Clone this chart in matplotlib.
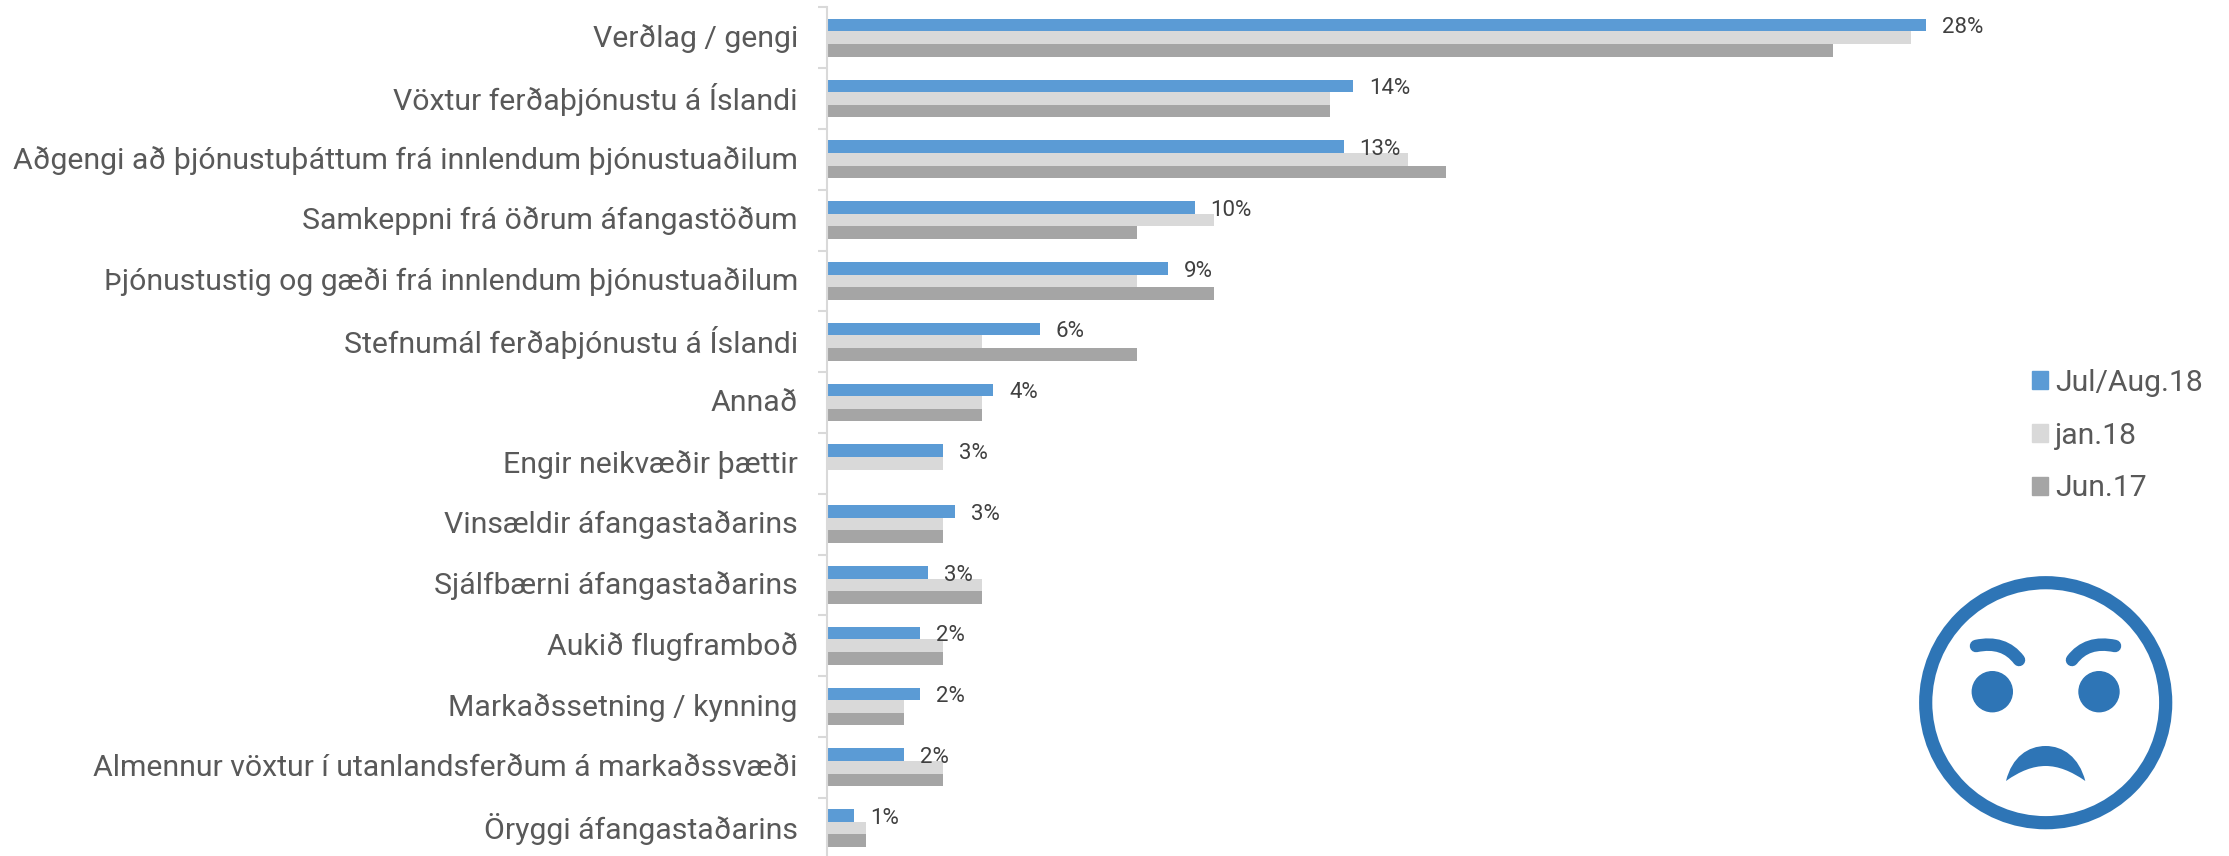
import matplotlib
matplotlib.use('Agg')
import matplotlib.pyplot as plt
from matplotlib.patches import Circle, PathPatch, Patch
from matplotlib.path import Path
from matplotlib.transforms import ScaledTranslation
import numpy as np

categories = ['Verðlag / gengi', 'Vöxtur ferðaþjónustu á Íslandi',
              'Aðgengi að þjónustuþáttum frá innlendum þjónustuaðilum',
              'Samkeppni frá öðrum áfangastöðum',
              'Þjónustustig og gæði frá innlendum þjónustuaðilum',
              'Stefnumál ferðaþjónustu á Íslandi', 'Annað', 'Engir neikvæðir þættir',
              'Vinsældir áfangastaðarins', 'Sjálfbærni áfangastaðarins', 'Aukið flugframboð',
              'Markaðssetning / kynning', 'Almennur vöxtur í utanlandsferðum á markaðssvæði',
              'Öryggi áfangastaðarins']
jul_aug_18 = [28.4, 13.6, 13.35, 9.5, 8.8, 5.5, 4.3, 3.0, 3.3, 2.6, 2.4, 2.4, 2.0, 0.7]
jan_18 = [28, 13, 15, 10, 8, 4, 4, 3, 3, 4, 3, 2, 3, 1]
jun_17 = [26, 13, 16, 8, 10, 8, 4, 0, 3, 4, 3, 2, 3, 1]
value_labels = ['28%', '14%', '13%', '10%', '9%', '6%', '4%', '3%', '3%', '3%', '2%', '2%', '2%', '1%']
series_names = ['Jul/Aug.18', 'jan.18', 'Jun.17']

W, H = 2229, 856
BLUE, LIGHT, GREY = '#5B9BD5', '#D9D9D9', '#A5A5A5'
FACE = '#2E75B6'
plt.rcParams['font.family'] = ['Roboto', 'DejaVu Sans']

fig = plt.figure(figsize=(W / 100, H / 100), dpi=100)

# axes placed in pixels: x=0 at 827, 38.7 px per percent, rows 60.8 px apart
left, right, top, bottom = 827, 827 + 38.7 * 30, 7.3, 7.3 + 14 * 60.8
ax = fig.add_axes([left / W, 1 - bottom / H, (right - left) / W, (bottom - top) / H])

y = np.arange(len(categories))
bar_h = 0.208
ax.barh(y - bar_h, jul_aug_18, bar_h, color=BLUE)
ax.barh(y, jan_18, bar_h, color=LIGHT)
ax.barh(y + bar_h, jun_17, bar_h, color=GREY)

ax.set_xlim(0, 30)
ax.set_ylim(len(categories) - 0.5, -0.5)
ax.xaxis.set_visible(False)
for side in ['top', 'right', 'bottom']:
    ax.spines[side].set_visible(False)
ax.spines['left'].set_color(LIGHT)
ax.spines['left'].set_linewidth(1.5)

ax.set_yticks(y)
ax.set_yticklabels(categories, fontsize=21.8, color='#595959')
ax.tick_params(axis='y', which='major', length=0, pad=21)
ax.set_yticks(np.arange(len(categories) + 1) - 0.5, minor=True)
ax.tick_params(axis='y', which='minor', length=6.5, width=1.5, color=LIGHT)

# nudge the category labels up a little
nudge = ScaledTranslation(0, 1.5 / 72, fig.dpi_scale_trans)
for lab in ax.get_yticklabels():
    lab.set_transform(lab.get_transform() + nudge)

for i, (val, lab) in enumerate(zip(jul_aug_18, value_labels)):
    ax.annotate(lab, (val, i - bar_h), xytext=(11.5, -2), textcoords='offset points',
                ha='left', va='center', fontsize=16, color='#404040')

handles = [Patch(color=c) for c in [BLUE, LIGHT, GREY]]
fig.legend(handles, series_names, loc='upper left', bbox_to_anchor=(2032 / W, 1 - 369 / H),
           frameon=False, fontsize=21.7, labelcolor='#595959', handlelength=0.53, handleheight=0.53,
           handletextpad=0.23, labelspacing=0.82, borderpad=0, borderaxespad=0)

# face icon drawn in pixel coordinates
ov = fig.add_axes([0, 0, 1, 1])
ov.set_xlim(0, W)
ov.set_ylim(H, 0)
ov.axis('off')
ov.patch.set_alpha(0)
ov.add_patch(Circle((2045.7, 702.7), 120, fill=False, ec=FACE, lw=9.5))
ov.add_patch(Circle((1992.3, 691.7), 20, color=FACE))
ov.add_patch(Circle((2099, 691.7), 20, color=FACE))

brow_l = Path([(1976, 646), (2004, 640), (2019, 660)], [Path.MOVETO, Path.CURVE3, Path.CURVE3])
brow_r = Path([(2115, 646), (2087, 640), (2072, 660)], [Path.MOVETO, Path.CURVE3, Path.CURVE3])
for p in [brow_l, brow_r]:
    ov.add_patch(PathPatch(p, fill=False, ec=FACE, lw=9, capstyle='round'))

mouth = Path([(2006, 781), (2012, 757), (2028, 746), (2045.7, 746),
              (2063, 746), (2079, 757), (2085.3, 781),
              (2071, 771), (2058, 766), (2045.7, 766),
              (2033, 766), (2020, 771), (2006, 781)],
             [Path.MOVETO] + [Path.CURVE4] * 12)
ov.add_patch(PathPatch(mouth, fc=FACE, ec='none'))

fig.savefig('out.png', dpi=100)
